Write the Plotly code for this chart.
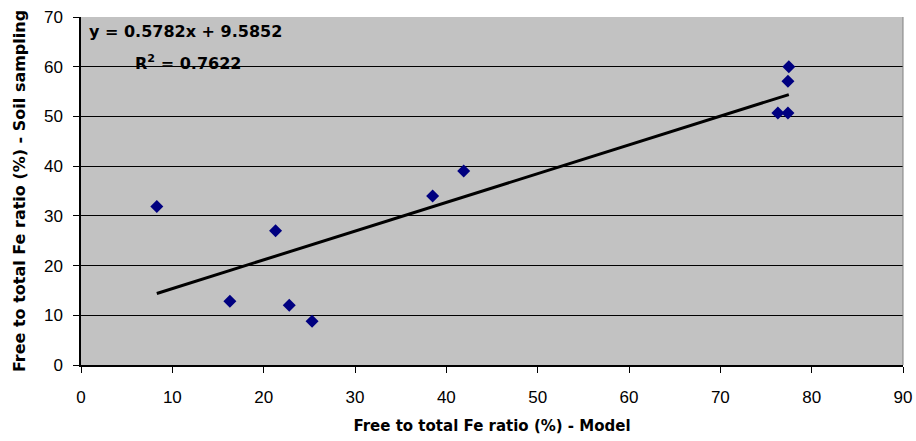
import plotly.graph_objects as go

model = [8.3, 16.3, 21.3, 22.8, 25.3, 38.5, 41.9, 76.3, 77.4, 77.4, 77.5]
soil = [31.9, 12.8, 27.0, 12.0, 8.8, 34.0, 39.0, 50.7, 50.7, 57.1, 60.0]
slope = 0.5782
intercept = 9.5852
r2 = 0.7622
x_ticks = [0, 10, 20, 30, 40, 50, 60, 70, 80, 90]
y_ticks = [0, 10, 20, 30, 40, 50, 60, 70]

x0, x1 = min(model), max(model)
fig = go.Figure()
fig.add_trace(go.Scatter(x=[x0, x1], y=[slope * x0 + intercept, slope * x1 + intercept],
                         mode="lines", line=dict(color="black", width=3), hoverinfo="skip"))
fig.add_trace(go.Scatter(x=model, y=soil, mode="markers",
                         marker=dict(symbol="diamond", size=10, color="#000080")))

font = "Liberation Sans, Arial, sans-serif"
tfont = "DejaVu Sans, sans-serif"
fig.update_layout(
    width=916, height=441,
    margin=dict(l=81, r=13, t=17, b=76),
    paper_bgcolor="white", plot_bgcolor="#c2c2c2",
    showlegend=False,
    font=dict(family=font, size=17, color="black"),
    xaxis=dict(range=[0, 90], tickvals=x_ticks, showgrid=False, zeroline=False,
               showline=True, linecolor="black", linewidth=1.5, automargin=False,
               ticks="outside", ticklen=6, tickcolor="black", ticklabelstandoff=10,
               title=dict(text="<b>Free to total Fe ratio (%) - Model</b>",
                          font=dict(size=15, family=tfont), standoff=14)),
    yaxis=dict(range=[0, 70], tickvals=y_ticks, showgrid=True, gridcolor="black", gridwidth=1,
               zeroline=False, showline=True, linecolor="black", linewidth=1.5, automargin=False,
               ticks="outside", ticklen=6, tickcolor="black", ticklabelstandoff=7,
               title=dict(text="<b>Free to total Fe ratio (%) - Soil sampling</b>",
                          font=dict(size=16, family=tfont), standoff=14)),
    annotations=[
        dict(x=0.007, y=0.99, xref="paper", yref="paper", xanchor="left", yanchor="top",
             text="<b>y = %.4fx + %.4f</b>" % (slope, intercept), showarrow=False,
             font=dict(size=16, family=tfont)),
        dict(x=0.063, y=0.905, xref="paper", yref="paper", xanchor="left", yanchor="top",
             text="<b>R<sup>2</sup> = %.4f</b>" % r2, showarrow=False,
             font=dict(size=16, family=tfont)),
    ],
    shapes=[dict(type="line", xref="paper", yref="paper", x0=1, x1=1, y0=0, y1=1,
                 line=dict(color="#808080", width=1))],
)
fig.write_html("out.html")
